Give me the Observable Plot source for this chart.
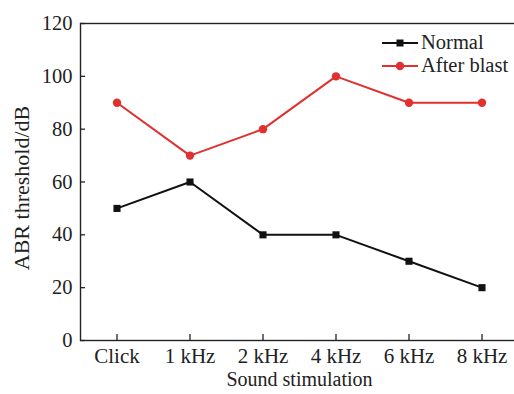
<!DOCTYPE html>
<html>
<head>
<meta charset="utf-8">
<script src="https://cdn.jsdelivr.net/npm/d3@7"></script>
<script src="https://cdn.jsdelivr.net/npm/@observablehq/plot@0.6"></script>
<style>
  html, body { margin: 0; padding: 0; background: #fff; }
  #wrap { position: relative; width: 514px; height: 394px; overflow: hidden; font-family: "Liberation Serif", "Times New Roman", serif; }
  #legend { position: absolute; left: 381px; top: 31px; font-size: 20.5px; color: #222; }
  .row { display: flex; align-items: center; height: 23px; }
  .row span { line-height: 19px; display: block; }
  .row svg { margin-right: 2px; display: block; }
</style>
</head>
<body>
<div id="wrap"></div>
<script>
const categories = ["Click", "1 kHz", "2 kHz", "4 kHz", "6 kHz", "8 kHz"];
const normal = [50, 60, 40, 40, 30, 20];
const afterBlast = [90, 70, 80, 100, 90, 90];
const yTicks = [0, 20, 40, 60, 80, 100, 120];
const seriesNames = ["Normal", "After blast"];
const colors = ["#111111", "#e03030"];

const data = [];
categories.forEach((c, i) => {
  data.push({cat: c, value: normal[i], series: seriesNames[0]});
  data.push({cat: c, value: afterBlast[i], series: seriesNames[1]});
});
const dNormal = data.filter(d => d.series === seriesNames[0]);
const dBlast = data.filter(d => d.series === seriesNames[1]);

const chart = Plot.plot({
  width: 514,
  height: 394,
  marginLeft: 80,
  marginRight: -4,
  marginTop: 23,
  marginBottom: 54,
  style: {fontFamily: "Liberation Serif, Times New Roman, serif", fontSize: "21px", color: "#222", background: "#fff"},
  x: {type: "band", domain: categories, padding: 0},
  y: {domain: [0, 120]},
  marks: [
    Plot.frame({stroke: "#222", strokeWidth: 1.4}),
    Plot.axisX({tickSize: -6, tickPadding: 14, label: null, stroke: "#222", strokeWidth: 1.3, fontSize: 21}),
    Plot.axisY({ticks: yTicks, tickSize: -5, tickPadding: 13, label: null, stroke: "#222", strokeWidth: 1.3, fontSize: 20.5}),
    Plot.line(dBlast, {x: "cat", y: "value", stroke: colors[1], strokeWidth: 2}),
    Plot.dot(dBlast, {x: "cat", y: "value", fill: colors[1], r: 4.2, symbol: "circle"}),
    Plot.line(dNormal, {x: "cat", y: "value", stroke: colors[0], strokeWidth: 2}),
    Plot.dot(dNormal, {x: "cat", y: "value", fill: colors[0], r: 4, symbol: "square"}),
    Plot.text(["Sound stimulation"], {frameAnchor: "bottom", dy: 45, fontSize: 20, fill: "#222"}),
    Plot.text(["ABR threshold/dB"], {frameAnchor: "left", textAnchor: "middle", dx: -59, dy: 6, rotate: -90, fontSize: 22, fill: "#222"})
  ]
});

const wrap = document.getElementById("wrap");
wrap.appendChild(chart);

const legend = document.createElement("div");
legend.id = "legend";
seriesNames.forEach((name, i) => {
  const row = document.createElement("div");
  row.className = "row";
  const sym = i === 0
    ? `<rect x="15.5" y="7.5" width="7" height="7" fill="${colors[i]}"/>`
    : `<circle cx="19" cy="11" r="4.2" fill="${colors[i]}"/>`;
  row.innerHTML = `<svg width="38" height="22"><line x1="1" x2="37" y1="11" y2="11" stroke="${colors[i]}" stroke-width="2"/>${sym}</svg><span>${name}</span>`;
  legend.appendChild(row);
});
wrap.appendChild(legend);
</script>
</body>
</html>
